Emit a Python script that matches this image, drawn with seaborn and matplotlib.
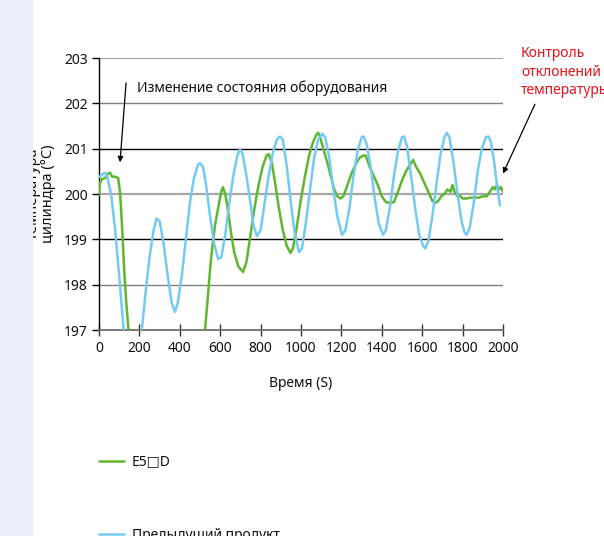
import matplotlib
matplotlib.use("Agg")
import matplotlib.pyplot as plt
import seaborn as sns
import pandas as pd
from matplotlib.patches import Rectangle

# ---------------- data ----------------
prev_t = [0, 10, 20, 30, 40, 60, 80, 100, 120, 140, 165, 190, 212, 230, 250, 270, 285, 300,
          320, 340, 360, 376, 390, 410, 430, 450, 470, 490, 500, 515, 530, 550, 570, 590,
          605, 625, 645, 665, 685, 698, 710, 730, 750, 765, 782, 800, 820, 840, 860, 880,
          896, 910, 930, 950, 970, 990, 1005, 1025, 1045, 1065, 1085, 1105, 1120, 1140,
          1160, 1180, 1203, 1220, 1240, 1260, 1280, 1300, 1310, 1325, 1345, 1365, 1385,
          1406, 1420, 1440, 1460, 1480, 1500, 1510, 1525, 1545, 1565, 1585, 1605, 1615,
          1630, 1650, 1670, 1690, 1710, 1722, 1735, 1755, 1775, 1795, 1810, 1820, 1835,
          1855, 1875, 1895, 1915, 1928, 1940, 1955, 1970, 1985]
prev_v = [200.38, 200.40, 200.45, 200.47, 200.40, 200.0, 199.2, 198.2, 197.1, 196.4, 196.1,
          196.5, 197.0, 197.8, 198.6, 199.2, 199.46, 199.4, 198.9, 198.2, 197.6, 197.4,
          197.6, 198.2, 199.0, 199.8, 200.35, 200.65, 200.68, 200.6, 200.2, 199.5, 198.9,
          198.57, 198.6, 199.1, 199.8, 200.4, 200.85, 200.98, 200.9, 200.4, 199.8, 199.3,
          199.07, 199.2, 199.8, 200.4, 200.9, 201.2, 201.27, 201.2, 200.6, 199.8, 199.1,
          198.72, 198.8, 199.4, 200.1, 200.8, 201.2, 201.33, 201.25, 200.8, 200.1, 199.5,
          199.1, 199.2, 199.7, 200.4, 200.95, 201.25, 201.27, 201.1, 200.6, 199.9, 199.35,
          199.1, 199.2, 199.7, 200.4, 200.95, 201.25, 201.27, 201.05, 200.4, 199.7, 199.1,
          198.85, 198.8, 198.95, 199.5, 200.2, 200.85, 201.25, 201.35, 201.25, 200.7, 200.0,
          199.4, 199.15, 199.1, 199.25, 199.8, 200.5, 201.0, 201.25, 201.27, 201.15, 200.75,
          200.2, 199.75]

e5_t = [0, 5, 15, 30, 45, 55, 65, 80, 95, 105, 115, 125, 135, 150, 175, 250, 330, 420, 490,
        525, 540, 555, 574, 590, 605, 614, 625, 640, 655, 670, 690, 713, 730, 750, 770, 790,
        810, 830, 840, 855, 870, 890, 910, 930, 948, 960, 980, 1000, 1020, 1040, 1060, 1075,
        1085, 1095, 1110, 1130, 1150, 1165, 1180, 1195, 1210, 1230, 1250, 1270, 1290, 1310,
        1320, 1340, 1360, 1380, 1400, 1420, 1440, 1460, 1480, 1500, 1520, 1540, 1555, 1570,
        1590, 1610, 1630, 1650, 1665, 1680, 1695, 1710, 1725, 1740, 1750, 1760, 1775, 1790,
        1800, 1820, 1840, 1860, 1880, 1900, 1920, 1935, 1950, 1960, 1970, 1980, 1990, 2000]
e5_v = [199.98, 200.25, 200.33, 200.35, 200.45, 200.47, 200.38, 200.38, 200.35, 200.0, 199.2,
        198.3, 197.6, 196.8, 195.5, 193.5, 193.0, 194.0, 195.8, 197.0, 197.8, 198.6, 199.3,
        199.7, 200.05, 200.15, 200.0, 199.6, 199.1, 198.7, 198.4, 198.28, 198.5, 199.1,
        199.7, 200.2, 200.6, 200.85, 200.88, 200.7, 200.3, 199.7, 199.2, 198.85, 198.7,
        198.8, 199.3, 199.9, 200.4, 200.85, 201.15, 201.3, 201.35, 201.25, 201.0, 200.7,
        200.35, 200.1, 199.95, 199.9, 199.95, 200.2, 200.45, 200.65, 200.8, 200.85, 200.85,
        200.6, 200.4, 200.2, 199.95, 199.82, 199.8, 199.82, 200.05, 200.3, 200.5, 200.65,
        200.75, 200.6, 200.45, 200.25, 200.05, 199.85, 199.8, 199.85, 199.95, 200.0, 200.1,
        200.05, 200.2, 200.05, 199.95, 199.95, 199.9, 199.9, 199.92, 199.92, 199.92, 199.95,
        199.95, 200.05, 200.15, 200.1, 200.2, 200.1, 200.15, 200.05]

series_names = ["E5\u25a1D", "Предыдущий продукт"]
x_ticks = [0, 200, 400, 600, 800, 1000, 1200, 1400, 1600, 1800, 2000]
y_ticks = [197, 198, 199, 200, 201, 202, 203]
x_label = "Время (S)"
y_label = "Температура\nцилиндра (°C)"
note_left = "Изменение состояния оборудования"
note_right = "Контроль\nотклонений\nтемпературы"

# ---------------- figure ----------------
sns.set_theme(style="white")
plt.rcParams["font.family"] = ["Noto Sans", "DejaVu Sans"]

df = pd.concat([
    pd.DataFrame({"t": e5_t, "v": e5_v, "s": series_names[0]}),
    pd.DataFrame({"t": prev_t, "v": prev_v, "s": series_names[1]}),
])

fig = plt.figure(figsize=(6.04, 5.36), dpi=100)
fig.patch.set_facecolor("white")
ax = fig.add_axes([99 / 604, 1 - 330 / 536, (503 - 99) / 604, (330 - 58) / 536])
ax.set_facecolor("white")

# grid lines with alternating colours
grid_style = {203: ("#a6a6a6", 1.6), 202: ("#808080", 1.0), 201: ("#000000", 1.0),
              200: ("#a6a6a6", 1.6), 199: ("#000000", 1.0), 198: ("#808080", 1.0)}
for yv, (c, lw) in grid_style.items():
    ax.axhline(yv, color=c, lw=lw, zorder=1)

palette = {series_names[0]: "#5fb631", series_names[1]: "#74cbf2"}
sns.lineplot(data=df, x="t", y="v", hue="s", palette=palette, estimator=None,
             sort=True, lw=1.8, ax=ax, zorder=3,
             hue_order=[series_names[0], series_names[1]])

ax.set_xlim(0, 2000)
ax.set_ylim(197, 203)
ax.set_xticks(x_ticks)
ax.set_yticks(y_ticks)
ax.set_xticklabels([str(v) for v in x_ticks])
ax.set_yticklabels([str(v) for v in y_ticks])
ax.tick_params(axis="y", direction="out", length=5, width=1, color="black",
               labelsize=10, labelcolor="#111111", pad=3, left=True)
ax.tick_params(axis="x", direction="inout", length=8, width=1, color="#333333",
               labelsize=10, labelcolor="#111111", pad=4, bottom=True)
for s in ["top", "right"]:
    ax.spines[s].set_visible(False)
ax.spines["left"].set_color("black")
ax.spines["left"].set_linewidth(1.0)
ax.spines["bottom"].set_color("#6e6e6e")
ax.spines["bottom"].set_linewidth(1.3)

ax.set_xlabel(x_label, fontsize=10, labelpad=14, color="#111111")
ax.set_ylabel(y_label, fontsize=10.5, labelpad=6, color="#111111", linespacing=1.0)

# annotations
ax.text(188, 202.34, note_left, fontsize=10, ha="left", va="center", color="#111111")
ax.annotate("", xy=(104, 200.70), xytext=(134, 202.45),
            arrowprops=dict(arrowstyle="-|>", color="black", lw=0.9,
                            mutation_scale=8, shrinkA=0, shrinkB=0))
ax.annotate("", xy=(2000, 200.45), xytext=(2158, 201.98),
            arrowprops=dict(arrowstyle="-|>", color="black", lw=0.9,
                            mutation_scale=8, shrinkA=0, shrinkB=0),
            annotation_clip=False)
ax.text(2089, 202.69, note_right, color="#e8141c", fontsize=10, ha="left",
        va="center", linespacing=1.35, clip_on=False)

# legend below the plot
leg = ax.legend(loc="upper left", bbox_to_anchor=(86 / 604, 1 - 442 / 536),
                bbox_transform=fig.transFigure, frameon=False, fontsize=10,
                handlelength=1.8, handletextpad=0.6, labelspacing=4.2)
for txt in leg.get_texts():
    txt.set_color("#111111")
for h in leg.get_lines():
    h.set_linewidth(1.8)

# left strip of the page
fig.patches.append(Rectangle((0, 0), 33 / 604, 1, transform=fig.transFigure,
                             facecolor="#e9eef8", edgecolor="none", zorder=10))

fig.savefig("out.png", dpi=100)
